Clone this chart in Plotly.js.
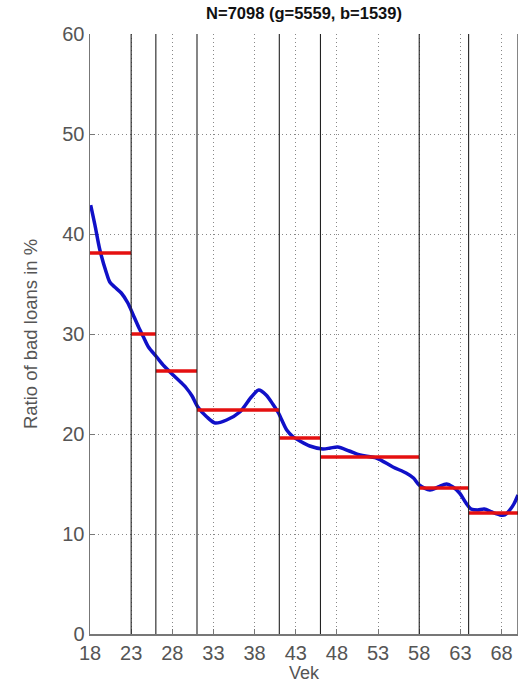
<!DOCTYPE html>
<html>
<head>
<meta charset="utf-8">
<script src="https://cdn.plot.ly/plotly-3.0.1.min.js"></script>
<style>html,body{margin:0;padding:0;background:#fff;}#chart{width:521px;height:684px;}</style>
</head>
<body>
<div id="chart"></div>
<script>
// Smoothed ratio of bad loans (blue curve)
const curveAge = [18.08, 18.6, 19.2, 20.0, 20.4, 21.0, 21.8, 22.6, 23.2, 23.9, 24.5, 25.1, 26.1, 27.0, 28.1, 29.0, 29.7, 30.4, 31.1, 32.2, 33.2, 34.6, 36.2, 37.6, 38.5, 39.4, 40.2, 40.9, 41.9, 42.7, 43.5, 44.7, 46.3, 47.2, 48.1, 49.5, 50.8, 52.8, 54.8, 56.4, 57.3, 58.0, 59.3, 60.3, 61.3, 62.1, 62.9, 63.6, 64.3, 65.1, 65.9, 66.8, 67.8, 68.4, 69.0, 69.5, 70.0];
const curveVal = [42.9, 40.9, 38.4, 36.1, 35.2, 34.7, 34.1, 33.1, 32.0, 30.7, 29.7, 28.7, 27.7, 26.8, 25.9, 25.2, 24.6, 23.8, 22.7, 21.7, 21.1, 21.4, 22.2, 23.7, 24.4, 23.9, 23.0, 22.1, 20.4, 19.7, 19.3, 18.8, 18.5, 18.6, 18.7, 18.3, 17.9, 17.6, 16.7, 16.1, 15.6, 14.9, 14.4, 14.7, 15.0, 14.7, 14.1, 13.2, 12.5, 12.4, 12.5, 12.2, 11.9, 11.9, 12.4, 13.0, 13.9];

// Age group boundaries and bad-loan ratio per group (red segments)
const bounds = [18, 23, 26, 31, 41, 46, 58, 64, 70];
const groupVal = [38.1, 30.0, 26.3, 22.4, 19.6, 17.7, 14.6, 12.1];

const xTicks = [18, 23, 28, 33, 38, 43, 48, 53, 58, 63, 68];
const yTicks = [0, 10, 20, 30, 40, 50, 60];

const segX = [], segY = [];
for (let i = 0; i < groupVal.length; i++) {
  segX.push(bounds[i], bounds[i + 1], null);
  segY.push(groupVal[i], groupVal[i], null);
}

const shapes = bounds.slice(1).map(b => ({
  type: 'line', xref: 'x', yref: 'paper', x0: b, x1: b, y0: 0, y1: 1,
  line: {color: '#222', width: 1.1}, layer: 'above'
}));

const traces = [
  {x: curveAge, y: curveVal, type: 'scatter', mode: 'lines',
   line: {color: '#1010c8', width: 3.5, shape: 'spline', smoothing: 0.8}, hoverinfo: 'skip'},
  {x: segX, y: segY, type: 'scatter', mode: 'lines',
   line: {color: '#e51010', width: 3.5}, hoverinfo: 'skip'}
];

const FONT = 'Liberation Sans, Arial, sans-serif';
const tickFont = {family: FONT, size: 20, color: '#555'};

const layout = {
  width: 521, height: 684,
  margin: {l: 90, r: 3, t: 34, b: 50},
  paper_bgcolor: '#fff', plot_bgcolor: '#fff',
  showlegend: false,
  title: {text: '<b>N=7098 (g=5559, b=1539)</b>', x: 0.5, xref: 'paper', y: 0.981, yref: 'container', yanchor: 'middle',
          font: {family: FONT, size: 16.5, color: '#111'}},
  xaxis: {
    range: [18, 70], tickvals: xTicks, ticktext: xTicks.map(String),
    showgrid: true, gridcolor: '#888', griddash: '1px,3px', gridwidth: 1,
    zeroline: false, showline: true, linecolor: '#777', linewidth: 1.5,
    ticks: 'inside', ticklen: 5, tickcolor: '#777',
    tickfont: tickFont,
    title: {text: 'Vek', standoff: 4, font: {family: FONT, size: 18, color: '#555'}}
  },
  yaxis: {
    range: [0, 60], tickvals: yTicks, ticktext: yTicks.map(String),
    showgrid: true, gridcolor: '#888', griddash: '1px,3px', gridwidth: 1,
    zeroline: false, showline: true, linecolor: '#777', linewidth: 1.5,
    ticks: 'inside', ticklen: 5, tickcolor: '#777',
    tickfont: tickFont,
    title: {text: 'Ratio of bad loans in %', standoff: 20, font: {family: FONT, size: 18.5, color: '#555'}}
  },
  shapes: shapes
};

Plotly.newPlot('chart', traces, layout, {staticPlot: true, displayModeBar: false});
</script>
</body>
</html>
